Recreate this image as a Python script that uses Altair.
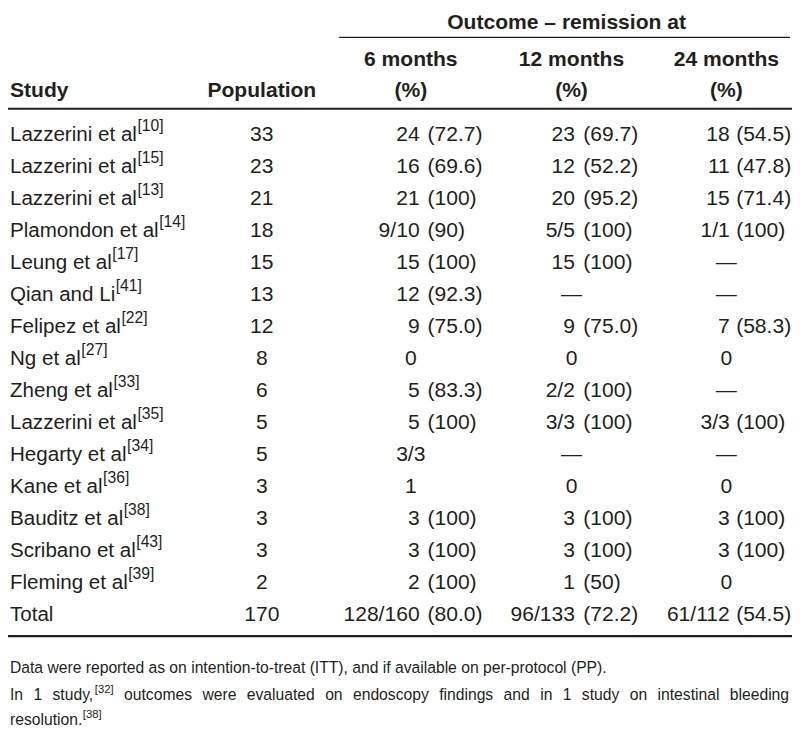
import altair as alt
import pandas as pd

studies = ["Lazzerini et al", "Lazzerini et al", "Lazzerini et al", "Plamondon et al",
           "Leung et al", "Qian and Li", "Felipez et al", "Ng et al", "Zheng et al",
           "Lazzerini et al", "Hegarty et al", "Kane et al", "Bauditz et al",
           "Scribano et al", "Fleming et al", "Total"]
refs = ["10", "15", "13", "14", "17", "41", "22", "27", "33", "35", "34", "36",
        "38", "43", "39", ""]
population = [33, 23, 21, 18, 15, 13, 12, 8, 6, 5, 5, 3, 3, 3, 2, 170]
remission_6m = ["24 (72.7)", "16 (69.6)", "21 (100)", "9/10 (90)", "15 (100)", "12 (92.3)",
                "9 (75.0)", "0", "5 (83.3)", "5 (100)", "3/3", "1", "3 (100)", "3 (100)",
                "2 (100)", "128/160 (80.0)"]
remission_12m = ["23 (69.7)", "12 (52.2)", "20 (95.2)", "5/5 (100)", "15 (100)", "—",
                 "9 (75.0)", "0", "2/2 (100)", "3/3 (100)", "—", "0", "3 (100)", "3 (100)",
                 "1 (50)", "96/133 (72.2)"]
remission_24m = ["18 (54.5)", "11 (47.8)", "15 (71.4)", "1/1 (100)", "—", "—",
                 "7 (58.3)", "0", "—", "3/3 (100)", "—", "0", "3 (100)", "3 (100)",
                 "0", "61/112 (54.5)"]
header_group = "Outcome – remission at"
header_cols = ["Study", "Population"]
header_months = ["6 months", "12 months", "24 months"]
header_unit = "(%)"
footnote_1 = "Data were reported as on intention-to-treat (ITT), and if available on per-protocol (PP)."
footnote_2a = "In 1 study,"
footnote_2ref = "32"
footnote_2b = "outcomes were evaluated on endoscopy findings and in 1 study on intestinal bleeding"
footnote_3a = "resolution."
footnote_3ref = "38"

# ---------------- layout (in reference-image pixels) ----------------
S = 784 / 800
FONT = "Liberation Sans"
INK = "#231f20"
F_NAME, F_NUM, F_BOLD, F_SUP = 21, 21.5, 21.5, 16
F_FOOT, F_FOOT_SUP = 16, 11.5
ROW0, PITCH = 135.5, 32.75
COL_CENTER = [411, 575, 733]
COL_RIGHT = [420, 578.5, 736.5]
COL_LEFT = [428, 587, 743]
FOOT_RIGHT = 797

AW = {" ": 278, "(": 333, ")": 333, ",": 278, "-": 333, ".": 278, "/": 278,
      "[": 278, "]": 278, "–": 556, "—": 1000,
      "A": 667, "B": 667, "C": 722, "D": 722, "E": 667, "F": 611, "G": 778, "H": 722,
      "I": 278, "J": 500, "K": 667, "L": 556, "M": 833, "N": 722, "O": 778, "P": 667,
      "Q": 778, "R": 722, "S": 667, "T": 611, "U": 722, "V": 667, "W": 944, "X": 667,
      "Y": 667, "Z": 611,
      "a": 556, "b": 556, "c": 500, "d": 556, "e": 556, "f": 278, "g": 556, "h": 556,
      "i": 222, "j": 222, "k": 500, "l": 222, "m": 833, "n": 556, "o": 556, "p": 556,
      "q": 556, "r": 333, "s": 500, "t": 278, "u": 556, "v": 500, "w": 722, "x": 500,
      "y": 500, "z": 500}


def text_w(s, size):
    return sum(AW.get(c, 556) for c in s) / 1000 * size


rows = {k: [] for k in ["name", "sup", "num_c", "num_r", "num_l", "hdr_c", "hdr_l",
                        "foot", "foot_sup"]}


def add(kind, x, y, t):
    rows[kind].append({"x": x, "y": y, "t": t})


# header
add("hdr_c", 570, 21, header_group)
add("hdr_l", 2, 91, header_cols[0])
add("hdr_c", 259, 91, header_cols[1])
for c, m in zip(COL_CENTER, header_months):
    add("hdr_c", c, 59, m)
    add("hdr_c", c, 91, header_unit)

# body
for i, name in enumerate(studies):
    y = ROW0 + i * PITCH
    add("name", 2, y, name)
    if refs[i]:
        add("sup", 2 + text_w(name, F_NAME) + 0.5, y - 10, "[" + refs[i] + "]")
    add("num_c", 259, y, str(population[i]))
    for j, col in enumerate([remission_6m, remission_12m, remission_24m]):
        cell = col[i]
        if "(" in cell:
            cnt, pct = cell.split(" ", 1)
            add("num_r", COL_RIGHT[j], y, cnt)
            add("num_l", COL_LEFT[j], y, pct)
        else:
            add("num_c", COL_CENTER[j], y, cell)

# footnotes
add("foot", 2, 680, footnote_1)
# line 2 is justified to the full width: lay its words out one by one
words2 = footnote_2a.split() + footnote_2b.split()
sup_after = len(footnote_2a.split()) - 1
sup_txt = "[" + footnote_2ref + "]"
widths = [text_w(w, F_FOOT) for w in words2]
widths[sup_after] += text_w(sup_txt, F_FOOT_SUP) + 0.5
gap = (FOOT_RIGHT - 2 - sum(widths)) / (len(words2) - 1)
xcur = 2
for k, w in enumerate(words2):
    add("foot", xcur, 707, w)
    if k == sup_after:
        add("foot_sup", xcur + text_w(w, F_FOOT) + 0.5, 700, sup_txt)
    xcur += widths[k] + gap
add("foot", 2, 733, footnote_3a)
add("foot_sup", 2 + text_w(footnote_3a, F_FOOT) + 0.5, 726, "[" + footnote_3ref + "]")

xs = alt.Scale(domain=[0, 800], range=[0, 784], nice=False, zero=False)
ys = alt.Scale(domain=[0, 736], range=[0, 720], nice=False, zero=False)


def text_layer(kind, size, align, weight="normal"):
    return alt.Chart(pd.DataFrame(rows[kind])).mark_text(
        font=FONT, fontSize=size * S, fontWeight=weight, align=align,
        baseline="alphabetic", color=INK
    ).encode(
        x=alt.X("x:Q", scale=xs, axis=None),
        y=alt.Y("y:Q", scale=ys, axis=None),
        text="t:N",
    )


rules = pd.DataFrame({
    "x1": [338, 0, 0],
    "x2": [798, 800, 800],
    "y": [30, 103, 642],
    "w": [1.3, 2.2, 2.2],
})
rule_layer = alt.Chart(rules).mark_rule(color=INK).encode(
    x=alt.X("x1:Q", scale=xs, axis=None),
    x2="x2:Q",
    y=alt.Y("y:Q", scale=ys, axis=None),
    strokeWidth=alt.StrokeWidth("w:Q", scale=None),
)

layers = [
    rule_layer,
    text_layer("hdr_c", F_BOLD, "center", "bold"),
    text_layer("hdr_l", F_BOLD, "left", "bold"),
    text_layer("name", F_NAME, "left"),
    text_layer("sup", F_SUP, "left"),
    text_layer("num_c", F_NUM, "center"),
    text_layer("num_r", F_NUM, "right"),
    text_layer("num_l", F_NUM, "left"),
    text_layer("foot", F_FOOT, "left"),
    text_layer("foot_sup", F_FOOT_SUP, "left"),
]

chart = alt.layer(*layers).properties(
    width=784, height=720, padding=0,
    autosize=alt.AutoSizeParams(type="none"),
).configure_view(stroke=None)

chart.save("out.html", embed_options={"renderer": "svg", "actions": False})
